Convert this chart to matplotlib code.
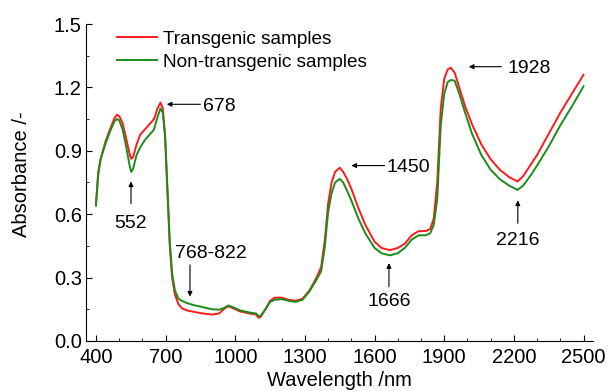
import matplotlib
matplotlib.use("Agg")
import matplotlib.pyplot as plt
from matplotlib.ticker import MultipleLocator, FormatStrFormatter

plt.rcParams["font.family"] = ["Liberation Sans", "DejaVu Sans"]

# ── 数据───────────────────────────────────────────────────────
wavelength = [400, 410, 420, 440, 460, 480, 490, 500, 515, 530, 545, 552, 560,
              575, 590, 610, 630, 650, 665, 678, 688, 698, 708, 718, 728, 740,
              755, 770, 790, 820, 860, 900, 930, 950, 970, 990, 1020, 1060,
              1090, 1100, 1110, 1130, 1150, 1170, 1200, 1230, 1260, 1290, 1320,
              1350, 1370, 1385, 1400, 1415, 1430, 1450, 1465, 1480, 1500, 1530,
              1560, 1600, 1630, 1666, 1700, 1730, 1760, 1790, 1820, 1840, 1855,
              1870, 1885, 1900, 1915, 1928, 1945, 1965, 1990, 2020, 2060, 2100,
              2140, 2180, 2216, 2240, 2270, 2300, 2350, 2400, 2450, 2500]

transgenic = [0.65, 0.80, 0.86, 0.94, 1.00, 1.055, 1.07, 1.065, 1.03, 0.96,
              0.885, 0.862, 0.87, 0.93, 0.975, 1.00, 1.025, 1.05, 1.10, 1.128,
              1.10, 0.96, 0.70, 0.45, 0.30, 0.22, 0.175, 0.155, 0.145, 0.138,
              0.130, 0.125, 0.13, 0.15, 0.165, 0.155, 0.14, 0.13, 0.125, 0.11,
              0.115, 0.15, 0.19, 0.205, 0.205, 0.195, 0.19, 0.20, 0.24, 0.30,
              0.35, 0.47, 0.65, 0.75, 0.80, 0.82, 0.80, 0.77, 0.72, 0.63, 0.55,
              0.47, 0.44, 0.43, 0.44, 0.46, 0.50, 0.52, 0.52, 0.53, 0.58, 0.75,
              1.10, 1.24, 1.285, 1.293, 1.27, 1.20, 1.11, 1.025, 0.93, 0.86,
              0.81, 0.775, 0.755, 0.78, 0.83, 0.88, 0.98, 1.08, 1.17, 1.26]

non_transgenic = [0.64, 0.79, 0.86, 0.93, 0.99, 1.04, 1.05, 1.045, 1.00, 0.92,
                  0.83, 0.80, 0.815, 0.88, 0.915, 0.95, 0.975, 1.00, 1.06, 1.10,
                  1.08, 0.97, 0.72, 0.47, 0.32, 0.24, 0.20, 0.19, 0.18, 0.17,
                  0.16, 0.15, 0.148, 0.155, 0.168, 0.16, 0.145, 0.135, 0.13,
                  0.118, 0.12, 0.15, 0.185, 0.195, 0.198, 0.19, 0.185, 0.195,
                  0.235, 0.29, 0.33, 0.44, 0.61, 0.70, 0.75, 0.767, 0.75, 0.715,
                  0.665, 0.58, 0.51, 0.44, 0.415, 0.405, 0.415, 0.44, 0.48, 0.50,
                  0.50, 0.51, 0.55, 0.67, 1.02, 1.17, 1.225, 1.235, 1.232, 1.17,
                  1.08, 0.98, 0.88, 0.81, 0.765, 0.735, 0.715, 0.735, 0.78, 0.83,
                  0.92, 1.02, 1.11, 1.205]

# 标注：(文字, 箭头起点, 箭头终点, 文字位置, 对齐方式)
annotations = [
    ("678",     (850, 1.12),  (705, 1.12),  (860, 1.12),  "left"),
    ("552",     (551, 0.65),  (551, 0.755), (551, 0.565), "center"),
    ("768-822", (805, 0.36),  (805, 0.21),  (895, 0.423), "center"),
    ("1450",    (1643, 0.83), (1500, 0.83), (1652, 0.83), "left"),
    ("1928",    (2146, 1.298), (2006, 1.298), (2173, 1.298), "left"),
    ("1666",    (1662, 0.257), (1662, 0.368), (1662, 0.194), "center"),
    ("2216",    (2217, 0.557), (2217, 0.665), (2217, 0.487), "center"),
]

FS = 14

# ── 绘图 ─────────────────────────────────────────────────────────────
fig = plt.figure(figsize=(6.08, 3.91), dpi=100)
ax = fig.add_axes([0.1414, 0.128, 0.8336, 0.8106])

ax.plot(wavelength, transgenic, color="#ff1a1a", lw=1.4, label="Transgenic samples")
ax.plot(wavelength, non_transgenic, color="#1a8c1a", lw=1.4, label="Non-transgenic samples")

for txt, tail, head, pos, ha in annotations:
    ax.annotate("", xy=head, xytext=tail,
                arrowprops=dict(arrowstyle="-|>", color="black", lw=0.8,
                                mutation_scale=7, shrinkA=0, shrinkB=0))
    ax.text(pos[0], pos[1], txt, ha=ha, va="center_baseline", fontsize=FS)

ax.set_xlim(357, 2540)
ax.set_ylim(0, 1.5)
ax.set_xticks(range(400, 2501, 300))
ax.xaxis.set_minor_locator(MultipleLocator(100))
ax.yaxis.set_major_locator(MultipleLocator(0.3))
ax.yaxis.set_minor_locator(MultipleLocator(0.15))
ax.yaxis.set_major_formatter(FormatStrFormatter("%.1f"))
ax.tick_params(which="both", direction="in", labelsize=FS + 0.5)
ax.tick_params(which="major", length=4)
ax.tick_params(which="minor", length=2.5)
ax.tick_params(axis="x", pad=5)
ax.tick_params(axis="y", pad=3)

ax.spines["top"].set_visible(False)
ax.spines["right"].set_visible(False)

ax.set_xlabel("Wavelength /nm", fontsize=FS + 0.5, labelpad=3)
ax.set_ylabel("Absorbance /-", fontsize=FS + 0.5)
ax.yaxis.set_label_coords(-0.108, 0.527)

ax.legend(loc="upper left", bbox_to_anchor=(0.1924, 0.922),
          bbox_transform=fig.transFigure, frameon=False,
          fontsize=FS - 0.3, handlelength=2.1, handletextpad=0.3,
          labelspacing=0.31, borderpad=0, borderaxespad=0)

fig.savefig("out.png", dpi=100)
